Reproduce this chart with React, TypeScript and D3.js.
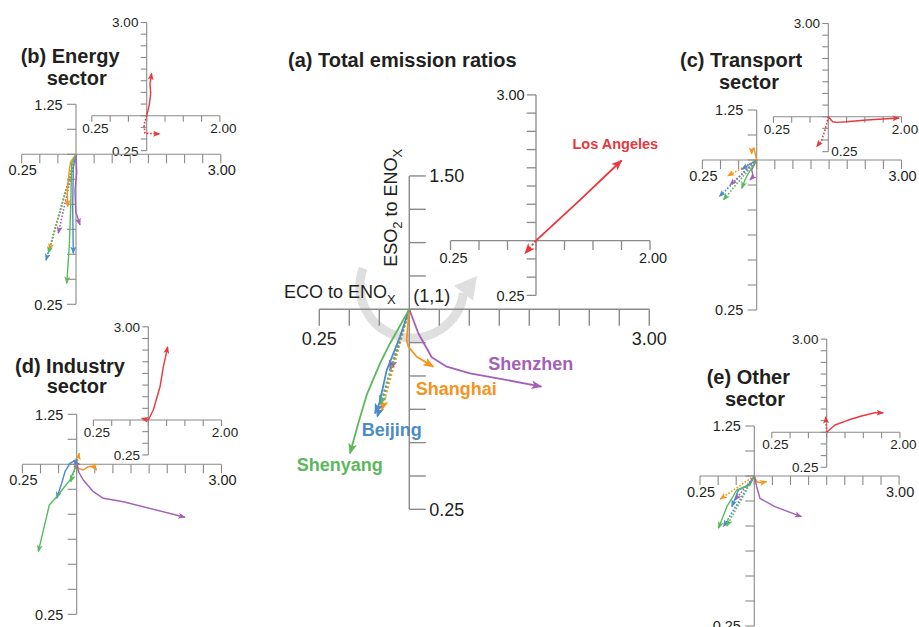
import React from "react";
import * as d3 from "d3";

type Pt = [number, number];

const FONT = "'Liberation Sans', Arial, Helvetica, sans-serif";

// ---------- DATA (ratios relative to base year, [ECO/ENOx, ESO2/ENOx]) ----------
const cities = ["Beijing", "Shanghai", "Shenzhen", "Shenyang"];
const cityColors: Record<string, string> = {
  Beijing: "#4b8bc8",
  Shanghai: "#f7941d",
  Shenzhen: "#a45fb7",
  Shenyang: "#5cb85c",
  "Los Angeles": "#e8383d",
};

// (a) Total emission ratios
const totalTrend: Record<string, Pt[]> = {
  Beijing: [[0.922, 0.897], [0.812, 0.772], [0.75, 0.647], [0.714, 0.61]],
  Shanghai: [[0.978, 0.885], [0.992, 0.86], [1.062, 0.822], [1.2, 0.785]],
  Shenzhen: [[1.075, 0.91], [1.187, 0.82], [1.312, 0.785], [1.506, 0.76], [1.783, 0.7375], [2.1, 0.71]],
  Shenyang: [[0.839, 0.872], [0.756, 0.797], [0.645, 0.679], [0.575, 0.5725], [0.506, 0.46]],
  "Los Angeles": [[1.38, 1.55], [1.75, 2.1]],
};
const totalInventory: Record<string, Pt[]> = {
  Beijing: [[0.733, 0.597]],
  Shanghai: [[0.77, 0.622]],
  Shenzhen: [[0.839, 0.772]],
  Shenyang: [[0.756, 0.641]],
  "Los Angeles": [[0.904, 0.827]],
};

// (b) Energy sector
const energyTrend: Record<string, Pt[]> = {
  Beijing: [[0.963, 0.938], [0.954, 0.738], [0.963, 0.505]],
  Shanghai: [[0.927, 0.963], [0.907, 0.92], [0.88, 0.82], [0.885, 0.738]],
  Shenzhen: [[1.01, 0.905], [0.986, 0.82], [0.996, 0.713], [1.055, 0.647]],
  Shenyang: [[0.94, 0.955], [0.927, 0.738], [0.907, 0.538], [0.872, 0.355]],
  "Los Angeles": [[1.035, 1.23], [1.055, 1.48], [1.045, 1.69], [1.068, 1.91]],
};
const energyInventory: Record<string, Pt[]> = {
  Beijing: [[0.586, 0.47]],
  Shanghai: [[0.631, 0.52]],
  Shenzhen: [[0.755, 0.605]],
  Shenyang: [[0.617, 0.505]],
  "Los Angeles": [[0.963, 0.8], [0.977, 0.623], [1.18, 0.608]],
};

// (c) Transport sector
const transportTrend: Record<string, Pt[]> = {
  Beijing: [[0.793, 0.953]],
  Shanghai: [[0.96, 1.06], [0.93, 1.05], [0.93, 1.03]],
  Shenzhen: [[0.931, 0.95], [0.953, 0.917], [0.907, 0.9]],
  Shenyang: [[0.884, 0.933], [0.838, 0.9], [0.793, 0.858]],
  "Los Angeles": [[1.06, 0.892], [1.115, 0.879], [1.25, 0.892], [1.52, 0.93], [1.968, 0.973]],
};
const transportInventory: Record<string, Pt[]> = {
  Beijing: [[0.483, 0.817]],
  Shanghai: [[0.6, 0.92]],
  Shenzhen: [[0.631, 0.875]],
  Shenyang: [[0.539, 0.8]],
  "Los Angeles": [[0.955, 0.713], [0.91, 0.497], [0.84, 0.352]],
};

// (d) Industry sector
const industryTrend: Record<string, Pt[]> = {
  Beijing: [[1.0, 1.025], [0.907, 1.005], [0.838, 0.963], [0.793, 0.905], [0.724, 0.83]],
  Shanghai: [[1.022, 0.98], [1.091, 0.9715], [1.16, 0.988], [1.23, 0.9915], [1.276, 0.9715]],
  Shenzhen: [[1.03, 0.96], [1.091, 0.9215], [1.23, 0.863], [1.367, 0.83], [1.644, 0.813], [2.496, 0.735]],
  Shenyang: [[0.907, 0.9215], [0.724, 0.838], [0.622, 0.7965], [0.47, 0.563]],
  "Los Angeles": [[1.068, 1.214], [1.16, 1.713], [1.205, 2.14], [1.265, 2.57]],
};
const industryInventory: Record<string, Pt[]> = {
  Beijing: [[0.96, 1.02]],
  Shanghai: [[1.036, 1.055]],
  Shenzhen: [[0.965, 0.985]],
  Shenyang: [[0.917, 0.913]],
  "Los Angeles": [[0.91, 1.04]],
};

// (e) Other sector
const otherTrend: Record<string, Pt[]> = {
  Beijing: [[0.918, 0.955], [0.78, 0.93], [0.69, 0.8465]],
  Shanghai: [[1.033, 0.9715], [1.1, 0.9665], [1.17, 0.9715]],
  Shenzhen: [[1.033, 0.9465], [1.078, 0.8885], [1.284, 0.8465], [1.467, 0.8215], [1.651, 0.7965]],
  Shenyang: [[0.941, 0.955], [0.758, 0.93], [0.621, 0.8465], [0.505, 0.7385]],
  "Los Angeles": [[1.113, 1.156], [1.295, 1.263], [1.477, 1.349], [1.659, 1.42], [1.773, 1.42]],
};
const otherInventory: Record<string, Pt[]> = {
  Beijing: [[0.574, 0.7465]],
  Shanghai: [[0.529, 0.885]],
  Shenzhen: [[0.735, 0.88]],
  Shenyang: [[0.62, 0.75]],
  "Los Angeles": [[0.986, 1.334]],
};

// ---------- LAYOUT ----------
interface AxisSpec {
  ox: number; oy: number; kx: number; ky: number;
  xMin: number; xMax: number; yMin: number; yMax: number;
  xStep: number; yStep: number;
  tick: number; ySide: number; font: number;
  xLabelDy: number; xLabelDx: number; yGap: number;
  stroke: number;
  bottomLabelRight?: boolean;
}

const mainA: AxisSpec = { ox: 409.3, oy: 309.3, kx: 120, ky: 266.7, xMin: 0.25, xMax: 3, yMin: 0.25, yMax: 1.5, xStep: 0.25, yStep: 0.125, tick: 16.5, ySide: 1, font: 18, xLabelDy: 35.5, xLabelDx: 0, yGap: 3.5, stroke: 1.4 };
const insetA: AxisSpec = { ox: 536, oy: 240.7, kx: 114, ky: 72.9, xMin: 0.25, xMax: 2, yMin: 0.25, yMax: 3, xStep: 0.25, yStep: 0.25, tick: 9.3, ySide: -1, font: 14.5, xLabelDy: 21.8, xLabelDx: 3, yGap: 2, stroke: 1.3 };

function sectorMain(ox: number, oy: number): AxisSpec {
  return { ox, oy, kx: 72.4, ky: 200, xMin: 0.25, xMax: 3, yMin: 0.25, yMax: 1.25, xStep: 0.25, yStep: 0.125, tick: 9, ySide: -1, font: 14.5, xLabelDy: 21, xLabelDx: 1, yGap: 4.4, stroke: 1.1 };
}
function sectorInset(ox: number, oy: number, bottomLabelRight = false): AxisSpec {
  return { ox, oy, kx: 73.2, ky: 46.6, xMin: 0.25, xMax: 2, yMin: 0.25, yMax: 3, xStep: 0.25, yStep: 0.25, tick: 6, ySide: -1, font: 13.5, xLabelDy: 17, xLabelDx: 3.5, yGap: 2.3, stroke: 1.1, bottomLabelRight };
}

const scalesFor = (s: AxisSpec) => {
  const x = d3.scaleLinear().domain([s.xMin, s.xMax]).range([s.ox - (1 - s.xMin) * s.kx, s.ox + (s.xMax - 1) * s.kx]);
  const y = d3.scaleLinear().domain([s.yMin, s.yMax]).range([s.oy + (1 - s.yMin) * s.ky, s.oy - (s.yMax - 1) * s.ky]);
  return { x, y };
};

const fmt = d3.format(".2f");
const AXIS = "#8a8a8a";
const TXT = "#231f20";

function Axes({ s }: { s: AxisSpec }) {
  const { x, y } = scalesFor(s);
  const nx = Math.round((s.xMax - s.xMin) / s.xStep);
  const ny = Math.round((s.yMax - s.yMin) / s.yStep);
  const xt = d3.range(nx + 1).map((i) => s.xMin + i * s.xStep);
  const yt = d3.range(ny + 1).map((i) => s.yMin + i * s.yStep);
  const yLabX = s.ox + s.ySide * (s.tick + s.yGap);
  const anchor = s.ySide > 0 ? "start" : "end";
  return (
    <g>
      <line x1={x(s.xMin)} x2={x(s.xMax)} y1={s.oy} y2={s.oy} stroke={AXIS} strokeWidth={s.stroke} />
      <line x1={s.ox} x2={s.ox} y1={y(s.yMin)} y2={y(s.yMax)} stroke={AXIS} strokeWidth={s.stroke} />
      {xt.map((v, i) => (
        <line key={"x" + i} x1={x(v)} x2={x(v)} y1={s.oy} y2={s.oy + s.tick} stroke={AXIS} strokeWidth={s.stroke} />
      ))}
      {yt.map((v, i) => (
        <line key={"y" + i} x1={s.ox} x2={s.ox + s.ySide * s.tick} y1={y(v)} y2={y(v)} stroke={AXIS} strokeWidth={s.stroke} />
      ))}
      <text x={x(s.xMin) + s.xLabelDx} y={s.oy + s.xLabelDy} textAnchor="middle" fontSize={s.font} fill={TXT}>{fmt(s.xMin)}</text>
      <text x={x(s.xMax) + s.xLabelDx} y={s.oy + s.xLabelDy} textAnchor="middle" fontSize={s.font} fill={TXT}>{fmt(s.xMax)}</text>
      <text x={yLabX} y={y(s.yMax)} dy="0.36em" textAnchor={anchor} fontSize={s.font} fill={TXT}>{fmt(s.yMax)}</text>
      {s.bottomLabelRight ? (
        <text x={s.ox + 3} y={y(s.yMin) - 1} dy="0.36em" textAnchor="start" fontSize={s.font} fill={TXT}>{fmt(s.yMin)}</text>
      ) : (
        <text x={yLabX} y={y(s.yMin)} dy="0.36em" textAnchor={anchor} fontSize={s.font} fill={TXT}>{fmt(s.yMin)}</text>
      )}
    </g>
  );
}

const markerId = (city: string, size: string) => `ah-${city.replace(/\s/g, "")}-${size}`;

function Trajectories({ s, trend, inv, names, size, lw }: { s: AxisSpec; trend: Record<string, Pt[]>; inv: Record<string, Pt[]>; names: string[]; size: string; lw: number }) {
  const { x, y } = scalesFor(s);
  const line = d3.line<Pt>().x((d) => x(d[0])).y((d) => y(d[1]));
  const origin: Pt = [1, 1];
  const dash = size === "big" ? "2,2.2" : "1.6,1.7";
  return (
    <g fill="none" strokeLinejoin="round">
      {names.map((c) => (
        <path key={"i" + c} d={line([origin, ...inv[c]]) || ""} stroke={cityColors[c]} strokeWidth={lw * 1.15} strokeDasharray={dash} markerEnd={`url(#${markerId(c, size)})`} />
      ))}
      {names.map((c) => (
        <path key={"t" + c} d={line([origin, ...trend[c]]) || ""} stroke={cityColors[c]} strokeWidth={lw} markerEnd={`url(#${markerId(c, size)})`} />
      ))}
    </g>
  );
}

interface SectorDef {
  main: AxisSpec; inset: AxisSpec; trend: Record<string, Pt[]>; inv: Record<string, Pt[]>;
  title: string; tx: number; ty: number; sx: number; sy: number;
}

const sectors: SectorDef[] = [
  { main: sectorMain(76, 154.3), inset: sectorInset(146.7, 115.7), trend: energyTrend, inv: energyInventory, title: "(b) Energy", tx: 20.7, ty: 63.3, sx: 46.7, sy: 85 },
  { main: sectorMain(756.7, 160), inset: sectorInset(828.3, 116.7, true), trend: transportTrend, inv: transportInventory, title: "(c) Transport", tx: 680, ty: 66.7, sx: 719, sy: 89.3 },
  { main: sectorMain(76.7, 464.3), inset: sectorInset(148.3, 420), trend: industryTrend, inv: industryInventory, title: "(d) Industry", tx: 15, ty: 373.3, sx: 46.7, sy: 393.3 },
  { main: sectorMain(754.3, 476), inset: sectorInset(826.7, 432.3), trend: otherTrend, inv: otherInventory, title: "(e) Other", tx: 706.7, ty: 384, sx: 725, sy: 406 },
];

const cityLabels = [
  { name: "Shenzhen", x: 488.3, y: 370 },
  { name: "Shanghai", x: 415.7, y: 395 },
  { name: "Beijing", x: 361.7, y: 436 },
  { name: "Shenyang", x: 296.7, y: 470.7 },
];

function RotateArrow() {
  const cx = 412, cy = 286, r = 52;
  const a0 = (200 * Math.PI) / 180;
  const a1 = (8 * Math.PI) / 180;
  const p = d3.path();
  p.arc(cx, cy, r, a0, a1, true);
  const ex = cx + r * Math.cos(a1), ey = cy + r * Math.sin(a1);
  const dirA = (38 * Math.PI) / 180; // direction angle from vertical (to the right)
  const dx = Math.sin(dirA), dy = -Math.cos(dirA);
  const px = -dy, py = dx;
  const tip = [ex + dx * 22, ey + dy * 22];
  const b1 = [ex + px * 12, ey + py * 12];
  const b2 = [ex - px * 12, ey - py * 12];
  return (
    <g opacity={0.9}>
      <path d={p.toString()} fill="none" stroke="#dcdcdc" strokeWidth={9} />
      <path d={`M${b1[0]},${b1[1]}L${tip[0]},${tip[1]}L${b2[0]},${b2[1]}Z`} fill="#dcdcdc" />
    </g>
  );
}

export default function App() {
  const allNames = [...cities, "Los Angeles"];
  return (
    <svg width={919} height={627} style={{ position: "absolute", left: 0, top: 0, background: "#fff" }} fontFamily={FONT}>
      <defs>
        {allNames.map((c) => (
          <React.Fragment key={c}>
            <marker id={markerId(c, "big")} viewBox="0 0 10 8" refX={9} refY={4} markerWidth={11} markerHeight={9} markerUnits="userSpaceOnUse" orient="auto">
              <path d="M0,0 L10,4 L0,8 L2.5,4 Z" fill={cityColors[c]} />
            </marker>
            <marker id={markerId(c, "small")} viewBox="0 0 10 8" refX={9} refY={4} markerWidth={7.5} markerHeight={6.5} markerUnits="userSpaceOnUse" orient="auto">
              <path d="M0,0 L10,4 L0,8 L2.5,4 Z" fill={cityColors[c]} />
            </marker>
          </React.Fragment>
        ))}
      </defs>

      {/* Panel (a) */}
      <RotateArrow />
      <Axes s={insetA} />
      <Axes s={mainA} />
      <text x={288} y={67} fontSize={20} fontWeight="bold" fill={TXT}>(a) Total emission ratios</text>
      <text x={284} y={298.3} fontSize={18} fill={TXT}>ECO to ENO<tspan fontSize={13} dy={6}>X</tspan></text>
      <text x={413.3} y={301.7} fontSize={18} fill={TXT}>(1,1)</text>
      <text transform="translate(396.5,266.7) rotate(-90)" fontSize={18} fill={TXT}>
        ESO<tspan fontSize={13} dy={5}>2</tspan><tspan dy={-5}> to ENO</tspan><tspan fontSize={13} dy={5}>X</tspan>
      </text>
      <Trajectories s={insetA} trend={totalTrend} inv={totalInventory} names={["Los Angeles"]} size="big" lw={1.8} />
      <Trajectories s={mainA} trend={totalTrend} inv={totalInventory} names={cities} size="big" lw={1.8} />
      {cityLabels.map((l) => (
        <text key={l.name} x={l.x} y={l.y} fontSize={18} fontWeight="bold" fill={cityColors[l.name]}>{l.name}</text>
      ))}
      <text x={572.5} y={149.3} fontSize={14.5} fontWeight="bold" fill={cityColors["Los Angeles"]}>Los Angeles</text>

      {/* Sector panels */}
      {sectors.map((sd) => (
        <g key={sd.title}>
          <Axes s={sd.inset} />
          <Axes s={sd.main} />
          <Trajectories s={sd.inset} trend={sd.trend} inv={sd.inv} names={["Los Angeles"]} size="small" lw={1.4} />
          <Trajectories s={sd.main} trend={sd.trend} inv={sd.inv} names={cities} size="small" lw={1.4} />
          <text x={sd.tx} y={sd.ty} fontSize={20} fontWeight="bold" fill={TXT}>{sd.title}</text>
          <text x={sd.sx} y={sd.sy} fontSize={20} fontWeight="bold" fill={TXT}>sector</text>
        </g>
      ))}
    </svg>
  );
}
